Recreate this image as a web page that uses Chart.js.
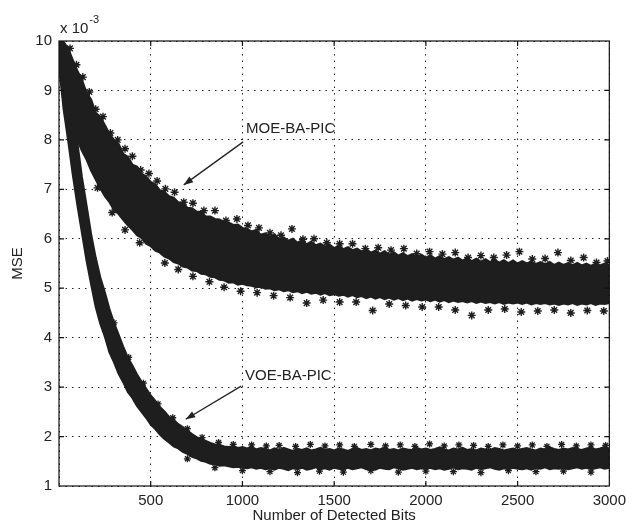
<!DOCTYPE html>
<html>
<head>
<meta charset="utf-8">
<title>MSE vs detected bits</title>
<script src="https://cdn.jsdelivr.net/npm/chart.js@4.4.1/dist/chart.umd.min.js"></script>
<style>
  html, body { margin: 0; padding: 0; background: #fff; }
  #wrap { width: 632px; height: 529px; }
</style>
</head>
<body>
<div id="wrap"><canvas id="mse-chart" width="632" height="529"></canvas></div>
<script>
// Chart data (MSE in units of 1e-3)
// ------------------------------
var bits = [0, 25, 50, 75, 100, 125, 150, 175, 200, 225, 250, 275, 300, 325, 350, 375, 400, 425, 450, 475,
    500, 525, 550, 575, 600, 625, 650, 675, 700, 725, 750, 775, 800, 825, 850, 875, 900, 925, 950, 975,
    1000, 1025, 1050, 1075, 1100, 1125, 1150, 1175, 1200, 1225, 1250, 1275, 1300, 1325, 1350, 1375, 1400, 1425, 1450, 1475,
    1500, 1525, 1550, 1575, 1600, 1625, 1650, 1675, 1700, 1725, 1750, 1775, 1800, 1825, 1850, 1875, 1900, 1925, 1950, 1975,
    2000, 2025, 2050, 2075, 2100, 2125, 2150, 2175, 2200, 2225, 2250, 2275, 2300, 2325, 2350, 2375, 2400, 2425, 2450, 2475,
    2500, 2525, 2550, 2575, 2600, 2625, 2650, 2675, 2700, 2725, 2750, 2775, 2800, 2825, 2850, 2875, 2900, 2925, 2950, 2975,
    3000];

// MOE-BA-PIC band: upper and lower edge of the noisy trace
var moeUpper = [10.0, 9.98, 9.85, 9.62, 9.4, 9.22, 8.95, 8.82, 8.55, 8.47, 8.3, 8.12, 8.0, 7.92, 7.72, 7.66, 7.5, 7.46, 7.32, 7.26,
    7.15, 7.1, 6.98, 6.95, 6.86, 6.83, 6.74, 6.72, 6.63, 6.62, 6.55, 6.54, 6.45, 6.45, 6.4, 6.39, 6.33, 6.33, 6.28, 6.29,
    6.22, 6.2, 6.15, 6.18, 6.08, 6.11, 6.04, 6.09, 5.99, 6.03, 5.96, 6.0, 5.92, 5.97, 5.89, 5.94, 5.87, 5.9, 5.84, 5.88,
    5.81, 5.86, 5.79, 5.83, 5.77, 5.8, 5.74, 5.79, 5.72, 5.76, 5.7, 5.75, 5.68, 5.73, 5.66, 5.71, 5.65, 5.69, 5.63, 5.68,
    5.62, 5.67, 5.6, 5.65, 5.59, 5.63, 5.58, 5.62, 5.56, 5.61, 5.55, 5.6, 5.54, 5.59, 5.53, 5.58, 5.52, 5.57, 5.51, 5.56,
    5.5, 5.55, 5.5, 5.54, 5.49, 5.53, 5.48, 5.53, 5.47, 5.52, 5.47, 5.51, 5.46, 5.51, 5.46, 5.5, 5.45, 5.5, 5.46, 5.5,
    5.47];
var moeLower = [9.4, 8.95, 8.6, 8.3, 8.0, 7.78, 7.6, 7.38, 7.2, 7.02, 6.86, 6.74, 6.58, 6.5, 6.38, 6.27, 6.18, 6.07, 6.02, 5.9,
    5.85, 5.76, 5.72, 5.64, 5.6, 5.53, 5.5, 5.44, 5.42, 5.36, 5.35, 5.29, 5.28, 5.23, 5.22, 5.17, 5.16, 5.11, 5.12, 5.07,
    5.09, 5.06, 5.05, 5.02, 5.03, 4.99, 5.0, 4.96, 4.98, 4.94, 4.96, 4.92, 4.94, 4.9, 4.93, 4.89, 4.91, 4.87, 4.9, 4.86,
    4.88, 4.85, 4.87, 4.83, 4.86, 4.82, 4.84, 4.8, 4.83, 4.79, 4.82, 4.78, 4.81, 4.77, 4.8, 4.76, 4.79, 4.75, 4.78, 4.75,
    4.77, 4.74, 4.77, 4.73, 4.76, 4.72, 4.75, 4.72, 4.74, 4.71, 4.74, 4.7, 4.73, 4.7, 4.72, 4.69, 4.72, 4.68, 4.71, 4.69,
    4.71, 4.68, 4.71, 4.67, 4.7, 4.68, 4.7, 4.67, 4.69, 4.66, 4.69, 4.67, 4.7, 4.66, 4.69, 4.67, 4.7, 4.66, 4.69, 4.68,
    4.7];

// VOE-BA-PIC band
var voeUpper = [10.0, 9.78, 9.2, 8.5, 7.95, 7.25, 6.68, 6.1, 5.62, 5.22, 4.92, 4.58, 4.3, 4.06, 3.82, 3.6, 3.44, 3.26, 3.11, 2.97,
    2.83, 2.72, 2.6, 2.51, 2.4, 2.34, 2.25, 2.19, 2.12, 2.05, 1.99, 1.95, 1.91, 1.87, 1.84, 1.83, 1.8, 1.79, 1.81, 1.77,
    1.79, 1.76, 1.79, 1.74, 1.77, 1.75, 1.72, 1.76, 1.73, 1.77, 1.74, 1.71, 1.75, 1.73, 1.76, 1.72, 1.74, 1.77, 1.73, 1.75,
    1.72, 1.76, 1.74, 1.71, 1.75, 1.77, 1.73, 1.75, 1.72, 1.76, 1.74, 1.78, 1.73, 1.75, 1.72, 1.76, 1.74, 1.73, 1.77, 1.74,
    1.76, 1.73, 1.75, 1.78, 1.74, 1.72, 1.76, 1.74, 1.77, 1.73, 1.75, 1.72, 1.76, 1.74, 1.73, 1.77, 1.75, 1.72, 1.74, 1.76,
    1.73, 1.75, 1.77, 1.74, 1.72, 1.76, 1.74, 1.78, 1.75, 1.73, 1.76, 1.74, 1.77, 1.75, 1.73, 1.76, 1.78, 1.74, 1.76, 1.79,
    1.75];
var voeLower = [9.5, 8.62, 7.98, 7.3, 6.68, 6.12, 5.56, 5.08, 4.62, 4.28, 4.02, 3.7, 3.5, 3.27, 3.1, 2.9, 2.78, 2.62, 2.5, 2.38,
    2.24, 2.15, 2.04, 1.95, 1.88, 1.8, 1.76, 1.69, 1.65, 1.59, 1.56, 1.51, 1.49, 1.45, 1.44, 1.41, 1.42, 1.4, 1.38, 1.39,
    1.37, 1.36, 1.38, 1.35, 1.37, 1.34, 1.36, 1.33, 1.37, 1.35, 1.32, 1.36, 1.34, 1.37, 1.33, 1.35, 1.38, 1.34, 1.36, 1.33,
    1.37, 1.35, 1.33, 1.37, 1.34, 1.36, 1.38, 1.34, 1.35, 1.33, 1.37, 1.35, 1.34, 1.38, 1.36, 1.33, 1.35, 1.37, 1.34, 1.36,
    1.35, 1.37, 1.34, 1.36, 1.33, 1.35, 1.38, 1.34, 1.36, 1.35, 1.33, 1.37, 1.34, 1.36, 1.38, 1.35, 1.33, 1.36, 1.34, 1.37,
    1.35, 1.34, 1.36, 1.33, 1.37, 1.35, 1.38, 1.34, 1.36, 1.35, 1.37, 1.34, 1.36, 1.38, 1.35, 1.37, 1.34, 1.36, 1.38, 1.35,
    1.37];

// outlying samples ('*' markers sticking out of the bands)
var moeSpikeBits = [60, 95, 130, 165, 200, 240, 280, 320, 360, 400, 445, 490, 535, 580, 630, 680, 730, 790, 850, 910,
    970, 1030, 1090, 1150, 1210, 1270, 1330, 1390, 1460, 1530, 1600, 1670, 1740, 1810, 1880, 1950, 2020, 2090, 2160, 2230,
    2300, 2370, 2440, 2510, 2580, 2650, 2720, 2790, 2860, 2930, 2990,
    210, 290, 360, 440, 577, 650, 730, 820, 900, 990, 1080, 1170, 1260, 1350, 1440, 1530, 1620, 1710, 1800, 1890,
    1980, 2070, 2160, 2250, 2340, 2430, 2520, 2610, 2700, 2790, 2880, 2970];
var moeSpikeMse = [9.85, 9.52, 9.27, 8.97, 8.62, 8.47, 8.14, 8.0, 7.82, 7.67, 7.39, 7.32, 7.17, 7.01, 6.94, 6.74, 6.72, 6.57, 6.57, 6.37,
    6.4, 6.27, 6.22, 6.12, 6.07, 6.2, 5.99, 6.0, 5.92, 5.9, 5.9, 5.8, 5.82, 5.77, 5.8, 5.7, 5.74, 5.69, 5.72, 5.62,
    5.66, 5.62, 5.67, 5.74, 5.59, 5.6, 5.72, 5.56, 5.62, 5.52, 5.55,
    7.03, 6.53, 6.18, 5.92, 5.51, 5.38, 5.24, 5.13, 5.02, 4.94, 4.91, 4.85, 4.81, 4.7, 4.76, 4.72, 4.72, 4.55, 4.68, 4.65,
    4.62, 4.62, 4.56, 4.45, 4.56, 4.58, 4.52, 4.54, 4.56, 4.5, 4.55, 4.54];
var voeSpikeBits = [300, 380, 460, 540, 620, 700, 780, 870, 950,
    1050, 1130, 1200, 1290, 1370, 1450, 1530, 1610, 1700, 1780, 1860, 1940, 2020, 2100, 2180, 2260, 2340, 2420, 2500, 2580,
    2660, 2740, 2820, 2900, 2980,
    700, 850, 1000, 1150, 1300, 1420, 1550, 1700, 1850, 2000, 2150, 2300, 2450, 2600, 2750, 2900];
var voeSpikeMse = [4.3, 3.6, 3.08, 2.66, 2.38, 2.16, 1.98, 1.88, 1.84,
    1.83, 1.81, 1.82, 1.8, 1.84, 1.81, 1.83, 1.8, 1.84, 1.81, 1.83, 1.8, 1.85, 1.81, 1.83, 1.82, 1.8, 1.83, 1.81, 1.83,
    1.8, 1.84, 1.81, 1.83, 1.82,
    1.55, 1.37, 1.31, 1.29, 1.27, 1.3, 1.28, 1.31, 1.28, 1.3, 1.29, 1.27, 1.31, 1.29, 1.3, 1.28];

var yTicks = [1, 2, 3, 4, 5, 6, 7, 8, 9, 10];

// labels with arrows: [text, textBits, textMse, tailBits, tailMse, headBits, headMse]
var callouts = [
    ["MOE-BA-PIC", 1020, 8.22, 1004, 7.96, 680, 7.09],
    ["VOE-BA-PIC", 1014, 3.22, 993, 3.02, 691, 2.35]
];

var ink = "#1e1e1e";
var font = "'Liberation Sans', Arial, sans-serif";

function pts(xs, ys) {
    return xs.map(function(x, i) { return { x: x, y: ys[i] }; });
}

// frame, inside ticks, callouts and the exponent label
var decorations = {
    id: "decorations",
    afterDraw: function(chart) {
        var ctx = chart.ctx;
        var a = chart.chartArea;
        var xs = chart.scales.x, ys = chart.scales.y;
        ctx.save();
        ctx.strokeStyle = "#111";
        ctx.lineWidth = 1.2;
        ctx.strokeRect(a.left, a.top, a.right - a.left, a.bottom - a.top);

        ctx.beginPath();
        [500, 1000, 1500, 2000, 2500].forEach(function(v) {
            var px = xs.getPixelForValue(v);
            ctx.moveTo(px, a.bottom); ctx.lineTo(px, a.bottom - 5);
            ctx.moveTo(px, a.top); ctx.lineTo(px, a.top + 5);
        });
        yTicks.slice(1, -1).forEach(function(v) {
            var py = ys.getPixelForValue(v);
            ctx.moveTo(a.left, py); ctx.lineTo(a.left + 5, py);
            ctx.moveTo(a.right, py); ctx.lineTo(a.right - 5, py);
        });
        ctx.stroke();

        ctx.fillStyle = "#222";
        ctx.font = "15px " + font;
        ctx.textBaseline = "middle";
        ctx.textAlign = "left";
        callouts.forEach(function(c) {
            ctx.fillText(c[0], xs.getPixelForValue(c[1]), ys.getPixelForValue(c[2]));
            var x0 = xs.getPixelForValue(c[3]), y0 = ys.getPixelForValue(c[4]);
            var x1 = xs.getPixelForValue(c[5]), y1 = ys.getPixelForValue(c[6]);
            var ang = Math.atan2(y1 - y0, x1 - x0);
            ctx.strokeStyle = "#222";
            ctx.lineWidth = 1.3;
            ctx.beginPath();
            ctx.moveTo(x0, y0); ctx.lineTo(x1, y1);
            ctx.stroke();
            ctx.beginPath();
            ctx.moveTo(x1, y1);
            ctx.lineTo(x1 - 10 * Math.cos(ang - 0.35), y1 - 10 * Math.sin(ang - 0.35));
            ctx.lineTo(x1 - 10 * Math.cos(ang + 0.35), y1 - 10 * Math.sin(ang + 0.35));
            ctx.closePath();
            ctx.fill();
        });

        // "x 10^-3" above the y axis
        ctx.textBaseline = "alphabetic";
        ctx.font = "15px " + font;
        ctx.fillText("x 10", a.left + 1, a.top - 8);
        var w = ctx.measureText("x 10").width;
        ctx.font = "11px " + font;
        ctx.fillText("-3", a.left + 2 + w, a.top - 18);
        ctx.restore();
    }
};

var gridStyle = {
    color: "#222",
    lineWidth: 1,
    drawTicks: false
};

var config = {
    type: "line",
    data: {
        datasets: [
            { label: "MOE upper", data: pts(bits, moeUpper), borderColor: ink, borderWidth: 2, pointRadius: 0, fill: false },
            { label: "MOE-BA-PIC", data: pts(bits, moeLower), borderColor: ink, borderWidth: 2, pointRadius: 0, fill: "-1", backgroundColor: ink },
            { label: "VOE upper", data: pts(bits, voeUpper), borderColor: ink, borderWidth: 2, pointRadius: 0, fill: false },
            { label: "VOE-BA-PIC", data: pts(bits, voeLower), borderColor: ink, borderWidth: 2, pointRadius: 0, fill: "-1", backgroundColor: ink },
            { label: "MOE spikes", data: pts(moeSpikeBits, moeSpikeMse), showLine: false, pointStyle: "star", pointRadius: 4, borderColor: ink, borderWidth: 1.4 },
            { label: "VOE spikes", data: pts(voeSpikeBits, voeSpikeMse), showLine: false, pointStyle: "star", pointRadius: 3.5, borderColor: ink, borderWidth: 1.3 }
        ]
    },
    options: {
        responsive: false,
        animation: false,
        events: [],
        layout: { padding: { left: 0, right: 17, top: 41, bottom: 0 } },
        plugins: {
            legend: { display: false },
            tooltip: { enabled: false }
        },
        scales: {
            x: {
                type: "linear",
                min: 0,
                max: 3000,
                afterFit: function(s) { s.height = 43; },
                ticks: {
                    stepSize: 500,
                    color: "#222",
                    padding: 6,
                    maxRotation: 0,
                    font: { family: font, size: 15 },
                    callback: function(v) { return v === 0 ? "" : v; }
                },
                grid: gridStyle,
                border: { display: false, dash: [1.5, 5] },
                title: {
                    display: true,
                    text: "Number of Detected Bits",
                    color: "#222",
                    padding: { top: 0, bottom: 4 },
                    font: { family: font, size: 15 }
                }
            },
            y: {
                min: 1,
                max: 10,
                afterFit: function(s) { s.width = 59; },
                ticks: {
                    stepSize: 1,
                    color: "#222",
                    padding: 7,
                    font: { family: font, size: 15 }
                },
                grid: gridStyle,
                border: { display: false, dash: [1.5, 5] },
                title: {
                    display: true,
                    text: "MSE",
                    color: "#222",
                    padding: { top: 9, bottom: 0 },
                    font: { family: font, size: 15 }
                }
            }
        }
    },
    plugins: [decorations]
};

// Create the chart
var mseChart = new Chart(document.getElementById("mse-chart"), config);
</script>
</body>
</html>
